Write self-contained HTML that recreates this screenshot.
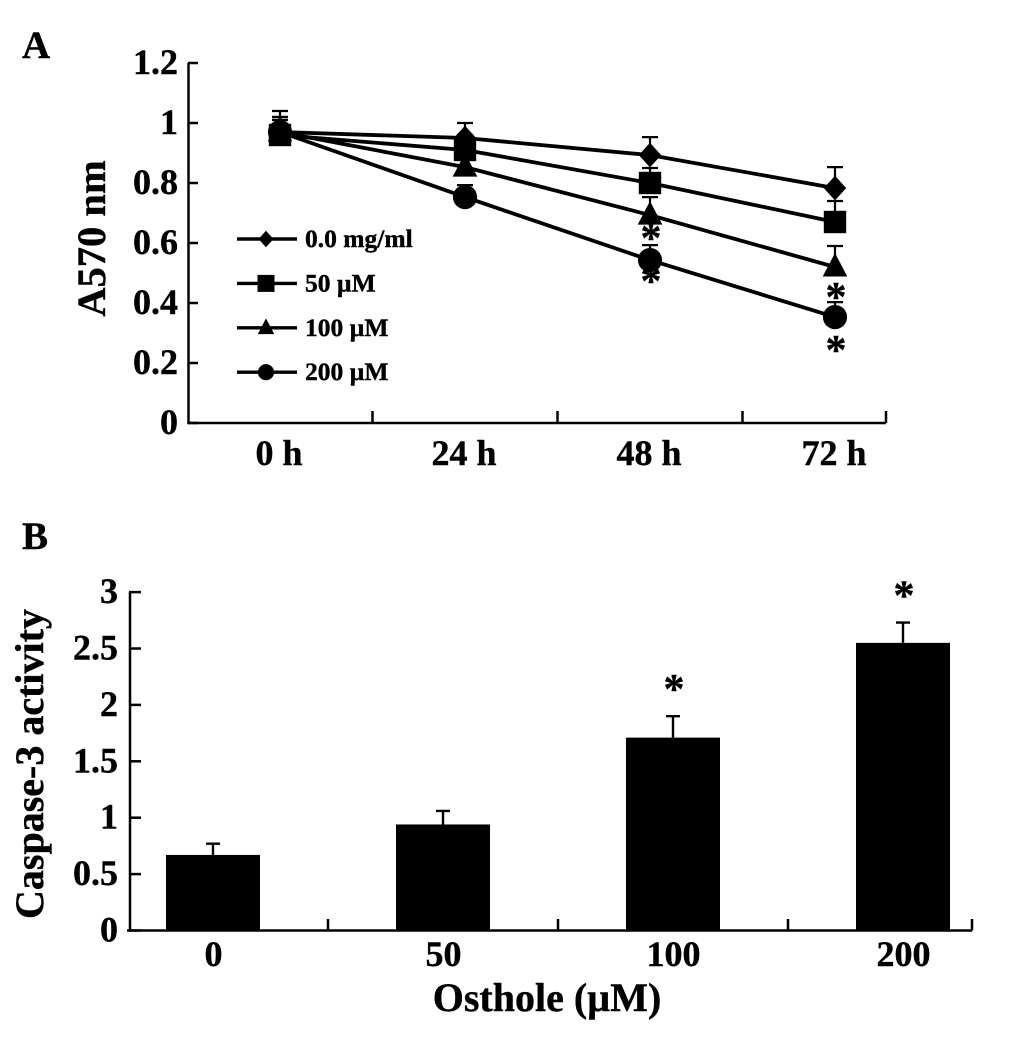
<!DOCTYPE html>
<html>
<head>
<meta charset="utf-8">
<title>Osthole viability and caspase-3 activity</title>
<style>
html,body{margin:0;padding:0;background:#fff;width:1033px;height:1058px;overflow:hidden}
svg{display:block}
text{font-family:"Liberation Serif",serif;font-weight:bold;fill:#000;stroke:#000;stroke-width:0.4px}
</style>
</head>
<body>
<svg id="chart" width="1033" height="1058" viewBox="0 0 1033 1058" xmlns="http://www.w3.org/2000/svg">
<rect width="1033" height="1058" fill="#fff"/>
<text x="22" y="58" font-size="39">A</text>
<text x="22" y="549" font-size="39">B</text>
<text transform="translate(105 238.5) rotate(-90)" text-anchor="middle" font-size="40.5">A570 nm</text>
<text transform="translate(43 764) rotate(-90)" text-anchor="middle" font-size="40">Caspase-3 activity</text>
<text x="547" y="1011" text-anchor="middle" font-size="40">Osthole (µM)</text>
</svg>
<script>
// Panel A data
var timeLabels = ['0 h', '24 h', '48 h', '72 h'];
var yTicksA = [0, 0.2, 0.4, 0.6, 0.8, 1, 1.2];
var seriesNames = ['0.0 mg/ml', '50 µM', '100 µM', '200 µM'];
var seriesControl = [0.97, 0.95, 0.893, 0.783];
var series50 = [0.96, 0.91, 0.80, 0.67];
var series100 = [0.97, 0.853, 0.693, 0.52];
var series200 = [0.97, 0.753, 0.543, 0.353];
var errControl = [0.07, 0.05, 0.06, 0.07];
var err50 = [0.05, 0.05, 0.05, 0.07];
var err100 = [0.05, 0.05, 0.06, 0.07];
var err200 = [0.05, 0.04, 0.05, 0.05];
var starCategoriesA = [2, 2, 3, 3];
var starValuesA = [0.633, 0.49, 0.437, 0.26];

// Panel B data
var doseLabels = ['0', '50', '100', '200'];
var yTicksB = [0, 0.5, 1, 1.5, 2, 2.5, 3];
var caspaseValues = [0.67, 0.94, 1.71, 2.55];
var caspaseErrors = [0.10, 0.12, 0.19, 0.18];
var starCategoriesB = [2, 3];

var svg = document.getElementById('chart');
var NS = 'http://www.w3.org/2000/svg';
function make(tag, attrs) {
  var el = document.createElementNS(NS, tag);
  for (var k in attrs) el.setAttribute(k, attrs[k]);
  svg.appendChild(el);
  return el;
}
function xA(i) { return 280 + 185 * i; }
function yA(v) { return 423 - 300 * v; }
function xB(i) { return 213 + 230 * i; }
function yB(v) { return 930.5 - 112.8 * v; }

function marker(kind, cx, cy, s) {
  var el;
  if (kind === 0) {
    el = make('polygon', {points: [cx, cy - s * 1.1, cx + s, cy, cx, cy + s * 1.1, cx - s, cy].join(' '), fill: '#000'});
  } else if (kind === 1) {
    el = make('rect', {x: cx - s, y: cy - s, width: 2 * s, height: 2 * s, fill: '#000'});
  } else if (kind === 2) {
    el = make('polygon', {points: [cx, cy - s * 1.25, cx + s * 1.1, cy + s * 0.85, cx - s * 1.1, cy + s * 0.85].join(' '), fill: '#000'});
  } else {
    el = make('circle', {cx: cx, cy: cy, r: s * 1.08, fill: '#000'});
  }
  return el;
}
function tickText(x, y, size, anchor) {
  return make('text', {x: x, y: y, 'font-size': size, 'text-anchor': anchor});
}

// ---- Panel A axes ----
var axA = make('path', {d: 'M188.5 63V423H886', fill: 'none', stroke: '#000', 'stroke-width': 2.5});


yTicksA.forEach(function (t) {
  var tk = make('line', {x1: 188, x2: 198, y1: yA(t), y2: yA(t), stroke: '#000', 'stroke-width': 2.5});
  
  
  var lb = tickText(178, yA(t) + 11, 36, 'end');
  lb.textContent = String(t);
  
  
});
timeLabels.forEach(function (c, i) {
  var tx = i < timeLabels.length - 1 ? (xA(i) + xA(i + 1)) / 2 : 886;
  var tk = make('line', {x1: tx, x2: tx, y1: 423, y2: 411, stroke: '#000', 'stroke-width': 2.5});
  
  
  var lb = tickText(xA(i) - 1, 465, 36, 'middle');
  lb.textContent = c;
  
  
});

// ---- Panel A series ----
var allSeries = [seriesControl, series50, series100, series200];
var allErr = [errControl, err50, err100, err200];
allSeries.forEach(function (vals, s) {
  vals.forEach(function (v, i) {
    var top = yA(v + allErr[s][i]);
    var eb = make('path', {d: 'M' + xA(i) + ' ' + yA(v) + 'V' + top + 'M' + (xA(i) - 8) + ' ' + top + 'H' + (xA(i) + 8), fill: 'none', stroke: '#000', 'stroke-width': 2.2});
    
    
  });
});
starCategoriesA.forEach(function (c, k) {
  var st = make('text', {x: xA(c) + 1, y: yA(starValuesA[k]) + 19, 'font-size': 42, 'text-anchor': 'middle'});
  st.textContent = '*';
  
  
});
allSeries.forEach(function (vals, s) {
  var pts = vals.map(function (v, i) { return xA(i) + ',' + yA(v); }).join(' ');
  var ln = make('polyline', {points: pts, fill: 'none', stroke: '#000', 'stroke-width': 3.8});
  
  
});
[3, 2, 1, 0].forEach(function (s) {
  allSeries[s].forEach(function (v, i) {
    var m = marker(s, xA(i), yA(v), 11.2);
    
    
  });
});

// ---- Legend ----
seriesNames.forEach(function (n, s) {
  var ly = 239 + 44.4 * s;
  var ll = make('line', {x1: 237, x2: 297, y1: ly, y2: ly, stroke: '#000', 'stroke-width': 3.4});
  
  
  var lm = marker(s, 266, ly, s === 1 ? 8.5 : 7.5);
  
  
  var lt = make('text', {x: 305, y: ly + 8, 'font-size': 25.5});
  lt.textContent = n;
  
  
});

// ---- Panel B axes ----
var axB = make('path', {d: 'M130 592V930.5', fill: 'none', stroke: '#000', 'stroke-width': 2.5});


var axBx = make('path', {d: 'M127 930.5H972', fill: 'none', stroke: '#000', 'stroke-width': 2.5});


yTicksB.forEach(function (t) {
  var tk = make('line', {x1: 129, x2: 141, y1: yB(t), y2: yB(t), stroke: '#000', 'stroke-width': 2.5});
  
  
  var lb = tickText(118, yB(t) + 11, 36, 'end');
  lb.textContent = String(t);
  
  
});
doseLabels.forEach(function (c, i) {
  var tx = i < doseLabels.length - 1 ? (xB(i) + xB(i + 1)) / 2 : 972;
  var tk = make('line', {x1: tx, x2: tx, y1: 930.5, y2: 919, stroke: '#000', 'stroke-width': 2.5});
  
  
  var lb = tickText(xB(i) + 0.5, 966, 36, 'middle');
  lb.textContent = c;
  
  
});

// ---- Panel B bars ----
caspaseValues.forEach(function (v, i) {
  var top = yB(v + caspaseErrors[i]);
  var eb = make('path', {d: 'M' + xB(i) + ' ' + yB(v) + 'V' + top + 'M' + (xB(i) - 7) + ' ' + top + 'H' + (xB(i) + 7), fill: 'none', stroke: '#000', 'stroke-width': 2.4});
  
  
  var bar = make('rect', {x: xB(i) - 47, y: yB(v), width: 94, height: yB(0) - yB(v), fill: '#000'});
  
  
});
starCategoriesB.forEach(function (c) {
  var st = make('text', {x: xB(c) + 1, y: yB(caspaseValues[c] + caspaseErrors[c]) - 13, 'font-size': 42, 'text-anchor': 'middle'});
  st.textContent = '*';
  
  
});
</script>
</body>
</html>
